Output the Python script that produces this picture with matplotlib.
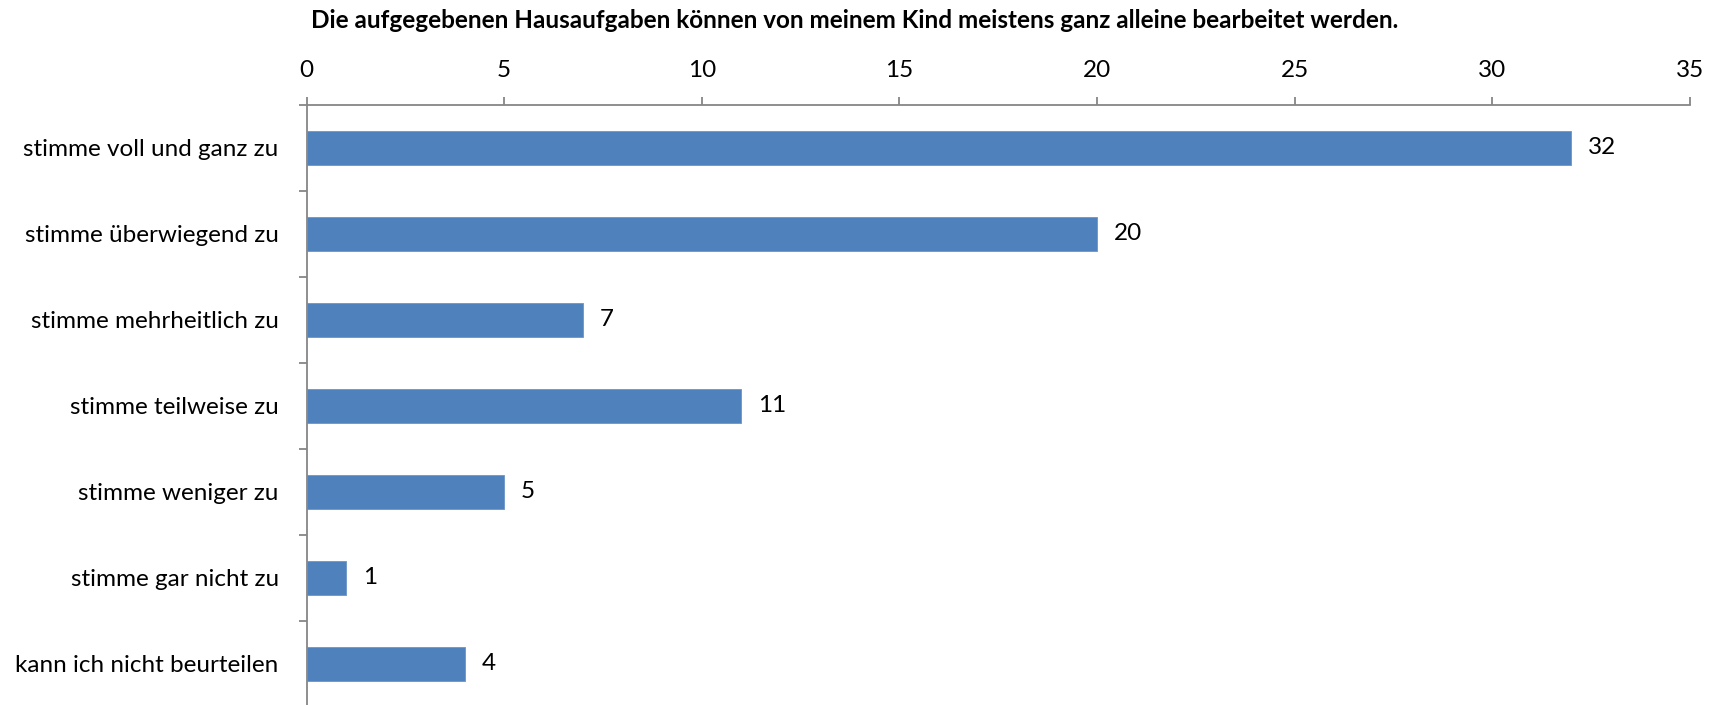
import matplotlib

matplotlib.use("Agg")
import matplotlib.pyplot as plt  # noqa: E402
import numpy as np  # noqa: E402

title = "Die aufgegebenen Hausaufgaben können von meinem Kind meistens ganz alleine bearbeitet werden."
categories = [
    "stimme voll und ganz zu",
    "stimme überwiegend zu",
    "stimme mehrheitlich zu",
    "stimme teilweise zu",
    "stimme weniger zu",
    "stimme gar nicht zu",
    "kann ich nicht beurteilen",
]
counts = [32, 20, 7, 11, 5, 1, 4]
x_ticks = [0, 5, 10, 15, 20, 25, 30, 35]

plt.rcParams["font.family"] = ["Lato", "DejaVu Sans"]
axis_grey = "#868686"
fs = 17.5

fig = plt.figure(figsize=(17.19, 7.05), dpi=100)
# axes box in pixels: left 306.5, right 1690, top 105, 86 px per category
top_px, row_px = 105, 86
h_px = row_px * len(categories)
ax = fig.add_axes([306.5 / 1719, 1 - (top_px + h_px) / 705, (1690 - 306.5) / 1719, h_px / 705])

y = np.arange(len(categories))
ax.barh(y, counts, height=0.4, color="#4F81BD", edgecolor="#6A94C8", linewidth=0.6)
for yi, v in zip(y, counts):
    ax.annotate(str(v), (v, yi), xytext=(12, 0), textcoords="offset points",
                va="center", ha="left", fontsize=fs)

ax.set_xlim(0, 35)
ax.set_ylim(len(categories) - 0.5, -0.5)
ax.xaxis.tick_top()
ax.set_xticks(x_ticks)
ax.set_xticklabels([str(t) for t in x_ticks], fontsize=fs)
ax.tick_params(axis="x", direction="out", length=5.8, width=1.3, color=axis_grey, pad=11.5)

ax.set_yticks(y)
ax.set_yticklabels(categories, fontsize=fs)
ax.tick_params(axis="y", which="major", length=0, pad=20)
ax.set_yticks(np.arange(len(categories)) - 0.5, minor=True)
ax.tick_params(axis="y", which="minor", direction="out", length=5.8, width=1.3, color=axis_grey)

for side in ("right", "bottom"):
    ax.spines[side].set_visible(False)
for side in ("top", "left"):
    ax.spines[side].set_color(axis_grey)
    ax.spines[side].set_linewidth(1.3)

fig.text(855 / 1719, 1 - 20 / 705, title, ha="center", va="center", fontsize=fs, fontweight="bold")

fig.savefig("out.png", dpi=100)
plt.close(fig)
